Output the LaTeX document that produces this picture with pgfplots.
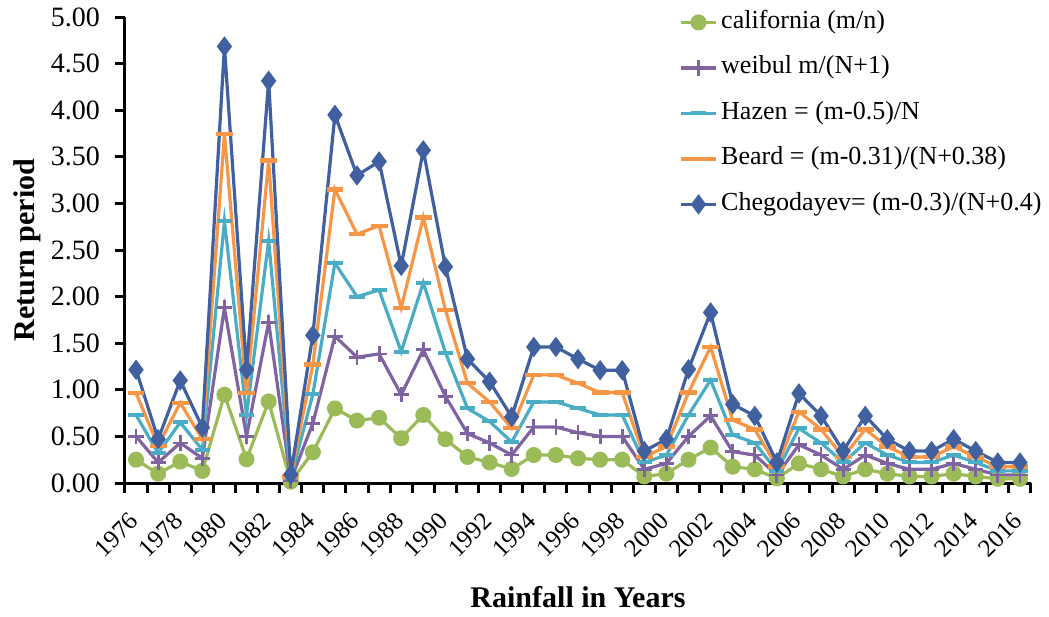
\documentclass[border=0pt]{standalone}
\usepackage{pgfplots}
\usepackage{pgfplotstable}
\pgfplotsset{compat=1.18}
\usepackage{fontspec}
\setmainfont{Liberation Serif}
\definecolor{cgreen}{RGB}{155,187,89}
\definecolor{cpurple}{RGB}{128,100,162}
\definecolor{ccyan}{RGB}{75,172,198}
\definecolor{corange}{RGB}{247,150,70}
\definecolor{cblue}{RGB}{64,96,160}
\pgfplotstableread{
year cal wei haz bea che
1976 0.25 0.50 0.73 0.965 1.215
1977 0.10 0.22 0.32 0.40 0.47
1978 0.23 0.43 0.65 0.86 1.10
1979 0.13 0.265 0.355 0.47 0.595
1980 0.947 1.88 2.81 3.745 4.684
1981 0.255 0.50 0.73 0.965 1.216
1982 0.875 1.725 2.60 3.46 4.315
1983 0.014 0.03 0.05 0.07 0.09
1984 0.33 0.64 0.95 1.27 1.585
1985 0.80 1.575 2.36 3.15 3.95
1986 0.67 1.35 2.00 2.67 3.30
1987 0.70 1.385 2.07 2.76 3.45
1988 0.48 0.947 1.41 1.88 2.33
1989 0.73 1.43 2.15 2.85 3.57
1990 0.47 0.93 1.40 1.856 2.32
1991 0.28 0.53 0.80 1.07 1.33
1992 0.22 0.43 0.66 0.87 1.087
1993 0.15 0.30 0.44 0.587 0.71
1994 0.30 0.60 0.87 1.16 1.46
1995 0.30 0.60 0.87 1.16 1.46
1996 0.265 0.54 0.80 1.07 1.33
1997 0.25 0.50 0.73 0.97 1.21
1998 0.25 0.50 0.73 0.97 1.21
1999 0.07 0.147 0.22 0.28 0.343
2000 0.10 0.21 0.30 0.39 0.47
2001 0.25 0.50 0.73 0.97 1.22
2002 0.38 0.72 1.105 1.46 1.83
2003 0.175 0.336 0.515 0.675 0.845
2004 0.147 0.30 0.43 0.575 0.72
2005 0.05 0.086 0.13 0.175 0.22
2006 0.21 0.41 0.585 0.765 0.962
2007 0.147 0.30 0.43 0.575 0.72
2008 0.07 0.147 0.22 0.28 0.343
2009 0.147 0.30 0.43 0.575 0.72
2010 0.10 0.21 0.30 0.39 0.47
2011 0.07 0.147 0.22 0.28 0.343
2012 0.07 0.147 0.22 0.28 0.343
2013 0.10 0.21 0.30 0.39 0.47
2014 0.07 0.147 0.22 0.28 0.343
2015 0.045 0.086 0.13 0.175 0.22
2016 0.045 0.086 0.13 0.175 0.22
}\datatable
\begin{document}
\begin{tikzpicture}
\useasboundingbox (-62.5pt,-66.5pt) rectangle (462pt,241.5pt);
\begin{axis}[
  scale only axis,
  width=453pt, height=233pt,
  xmin=1975.5, xmax=2016.5,
  ymin=0, ymax=5,
  axis x line*=bottom, axis y line*=left,
  axis line style={line width=1.5pt, black},
  xtick={1976,1978,...,2016},
  minor xtick={1975.5,1976.5,...,2016.5},
  major x tick style={draw=none},
  minor x tick style={line width=1.5pt, black},
  minor tick length=5pt,
  ytick={0,0.5,...,5},
  y tick style={line width=1.5pt, black},
  major tick length=5pt,
  tick align=outside,
  tick pos=left,
  /pgf/number format/assume math mode=true,
  yticklabel style={/pgf/number format/fixed, /pgf/number format/fixed zerofill, /pgf/number format/precision=2, font=\fontsize{14}{16}\selectfont, xshift=-4pt},
  xticklabel style={/pgf/number format/1000 sep={}, xshift=1.5pt, yshift=-9.5pt, rotate=45, anchor=east, font=\fontsize{12.5}{15}\selectfont},
  xlabel={Rainfall in Years},
  ylabel={Return period},
  xlabel style={at={(axis description cs:0.5,-0.245)}, anchor=center, font=\fontsize{15}{18}\selectfont\bfseries},
  ylabel style={at={(axis description cs:-0.108,0.5)}, anchor=center, font=\fontsize{15}{18}\selectfont\bfseries},
  legend style={at={(axis description cs:0.612,1.0236)}, anchor=north west, draw=none, fill=none, inner sep=0pt,
    nodes={text height=9pt, text depth=3pt, inner sep=2pt, font=\fontsize{13}{15}\selectfont}, row sep=6.75pt},
  legend cell align=left,
  every axis plot/.append style={line width=1.6pt},
  clip=false,
]
\addplot[color=cgreen, mark=*, mark size=3.2pt, mark options={fill=cgreen}] table[x=year, y=cal] {\datatable};
\addlegendentry{california (m/n)}
\addplot[color=cpurple, mark=+, mark size=3.8pt, mark options={line width=1.4pt}] table[x=year, y=wei] {\datatable};
\addlegendentry{weibul m/(N+1)}
\addplot[color=ccyan, mark=-, mark size=3.8pt, mark options={line width=2pt}] table[x=year, y=haz] {\datatable};
\addlegendentry{Hazen = (m-0.5)/N}
\addplot[color=corange, mark=-, mark size=4.2pt, mark options={line width=2.2pt}] table[x=year, y=bea] {\datatable};
\addlegendentry{Beard = (m-0.31)/(N+0.38)}
\addplot[color=cblue, mark=diamond*, mark size=3.8pt, mark options={fill=cblue}] table[x=year, y=che] {\datatable};
\addlegendentry{Chegodayev= (m-0.3)/(N+0.4)}
\end{axis}
\end{tikzpicture}
\end{document}
